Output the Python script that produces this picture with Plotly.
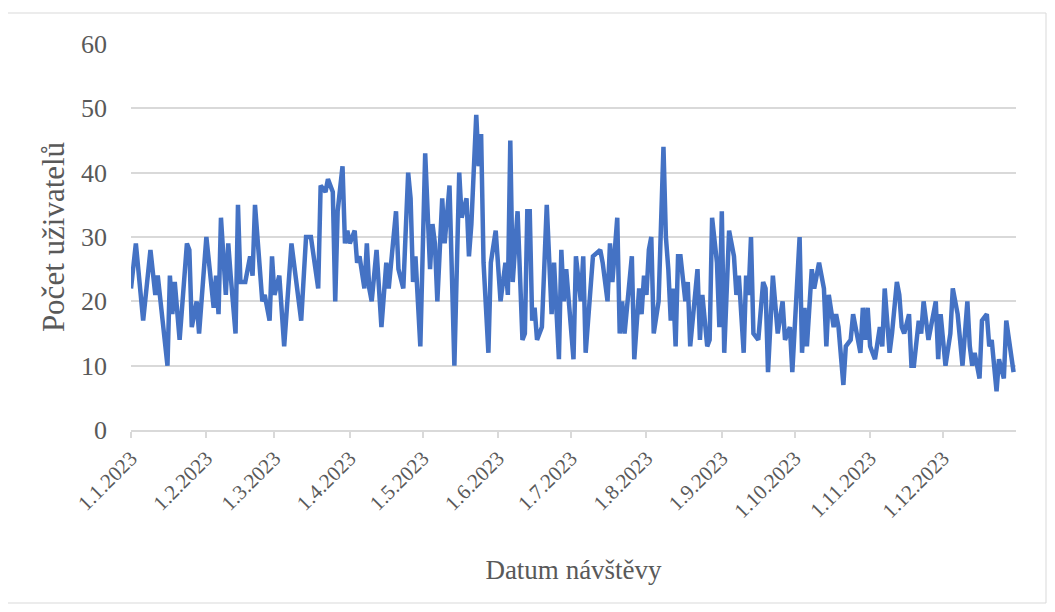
import datetime as dt
import plotly.graph_objects as go

# Day offsets from 1.1.2023 and visitor counts
day_offset = [
    0, 2, 5, 8, 10, 11, 13, 15, 16, 17, 18, 20, 23, 24, 25, 27, 28, 31, 34, 35,
    36, 37, 39, 40, 41, 43, 44, 45, 47, 49, 50, 51, 54, 55, 57, 58, 59, 61, 63, 66,
    70, 72, 74, 77, 78, 80, 81, 83, 84, 85, 87, 88, 89, 90, 92, 93, 94, 96, 97, 98,
    99, 101, 103, 105, 106, 109, 110, 112, 114, 115, 116, 117, 119, 121, 123, 124, 125, 126, 128, 129,
    131, 133, 135, 136, 138, 139,
    140, 142, 143, 144, 145, 147, 148, 150, 152, 154, 155, 156, 157, 159, 161, 162, 163, 164, 165, 166,
    167, 169, 171, 173, 174, 176, 177, 178, 179, 182, 183, 185, 186, 187, 190, 193, 194, 196, 197, 198,
    200, 201, 202, 203, 204, 206, 207, 209,
    210, 211, 212, 213, 214, 215, 217, 219, 220, 221, 222, 223, 224, 225, 226, 228, 229, 230, 233, 234,
    235, 237, 238, 239, 241, 242, 243, 244, 246, 248, 249, 250, 252, 253, 254, 255, 256, 258, 260, 261,
    262, 264, 266, 268, 269, 271, 272, 275, 276, 277, 278, 279,
    280, 281, 283, 285, 286, 287, 289, 290, 291, 293, 294, 296, 297, 299, 300, 301, 302, 303, 304, 306,
    308, 309, 310, 312, 313, 315, 316, 317, 318, 320, 321, 322, 324, 325, 326, 328, 329, 331, 332, 333,
    335, 337, 338, 340, 341, 342, 344, 345, 346, 347, 349, 350, 352, 353, 354, 356, 357, 359, 360, 361,
    363,
]
users = [
    22, 29, 17, 28, 21, 24, 17, 10, 24, 18, 23, 14, 29, 28, 16, 20, 15, 30, 19, 24,
    18, 33, 21, 29, 24, 15, 35, 23, 23, 27, 24, 35, 20, 21, 17, 27, 21, 24, 13, 29,
    17, 30, 30, 22, 38, 37, 39, 37, 20, 34, 41, 29, 31, 29, 31, 26, 27, 22, 29, 22,
    20, 28, 16, 26, 22, 34, 25, 22, 40, 36, 23, 27, 13, 43, 25, 32, 29, 20, 36, 29,
    38, 10, 40, 33, 36, 27,
    32, 49, 41, 46, 26, 12, 26, 31, 20, 26, 21, 45, 23, 34, 14, 15, 34, 34, 17, 19,
    14, 16, 35, 18, 26, 11, 28, 20, 25, 11, 27, 20, 27, 12, 27, 28, 26, 20, 29, 23,
    33, 15, 20, 15, 19, 27, 11, 22,
    18, 24, 21, 28, 30, 15, 20, 44, 30, 25, 17, 22, 13, 27, 27, 20, 23, 13, 25, 14,
    21, 13, 14, 33, 26, 16, 34, 12, 31, 27, 21, 24, 12, 24, 21, 30, 15, 14, 23, 22,
    9, 24, 15, 20, 14, 16, 9, 30, 12, 19, 13, 20,
    25, 22, 26, 22, 13, 21, 16, 18, 16, 7, 13, 14, 18, 14, 12, 19, 14, 19, 13, 11,
    16, 13, 22, 12, 15, 23, 21, 16, 15, 18, 10, 10, 17, 15, 20, 14, 16, 20, 11, 18,
    10, 15, 22, 18, 14, 10, 20, 13, 10, 12, 8, 17, 18, 13, 14, 6, 11, 8, 17, 14,
    9,
]

tick_dates = ["2023-%02d-01" % m for m in range(1, 13)]
tick_labels = ["1.%d.2023" % m for m in range(1, 13)]

start = dt.date(2023, 1, 1)
dates = [start + dt.timedelta(days=d) for d in day_offset]

FONT = "Liberation Serif"
GREY_TXT = "#595959"
GRID = "#D9D9D9"

fig = go.Figure()
fig.add_trace(go.Scatter(
    x=dates, y=users, mode="lines",
    line=dict(color="#4472C4", width=4.5, shape="linear"),
    hoverinfo="x+y", showlegend=False,
))

fig.update_layout(
    width=1039, height=596, autosize=False,
    margin=dict(l=123, r=31, t=36, b=174),
    paper_bgcolor="white", plot_bgcolor="white",
    font=dict(family=FONT, color=GREY_TXT, size=22),
    shapes=[dict(type="rect", xref="paper", yref="paper",
                 x0=-0.1412, x1=1.0339, y0=-0.4482, y1=1.0803,
                 line=dict(color=GRID, width=1), fillcolor="rgba(0,0,0,0)",
                 layer="below")],
)
fig.update_xaxes(
    type="date", range=["2023-01-01", "2023-12-31"], automargin=False,
    tickmode="array", tickvals=tick_dates, ticktext=tick_labels,
    tickangle=-45, tickfont=dict(family=FONT, size=21, color=GREY_TXT),
    showgrid=False, zeroline=False,
    showline=True, linecolor=GRID, linewidth=1.5,
    ticks="outside", ticklen=6, tickcolor=GRID, tickwidth=1.5,
    title=dict(text="Datum návštěvy", font=dict(family=FONT, size=27, color=GREY_TXT), standoff=38),
)
fig.update_yaxes(
    range=[0, 60], dtick=10, tick0=0, automargin=False,
    showgrid=True, gridcolor=GRID, gridwidth=1.5,
    zeroline=False, showline=False, ticks="",
    tickfont=dict(family=FONT, size=26, color=GREY_TXT),
    ticklabelstandoff=23,
    title=dict(text="Počet uživatelů", font=dict(family=FONT, size=31, color=GREY_TXT), standoff=7),
)

fig.write_html("out.html")
